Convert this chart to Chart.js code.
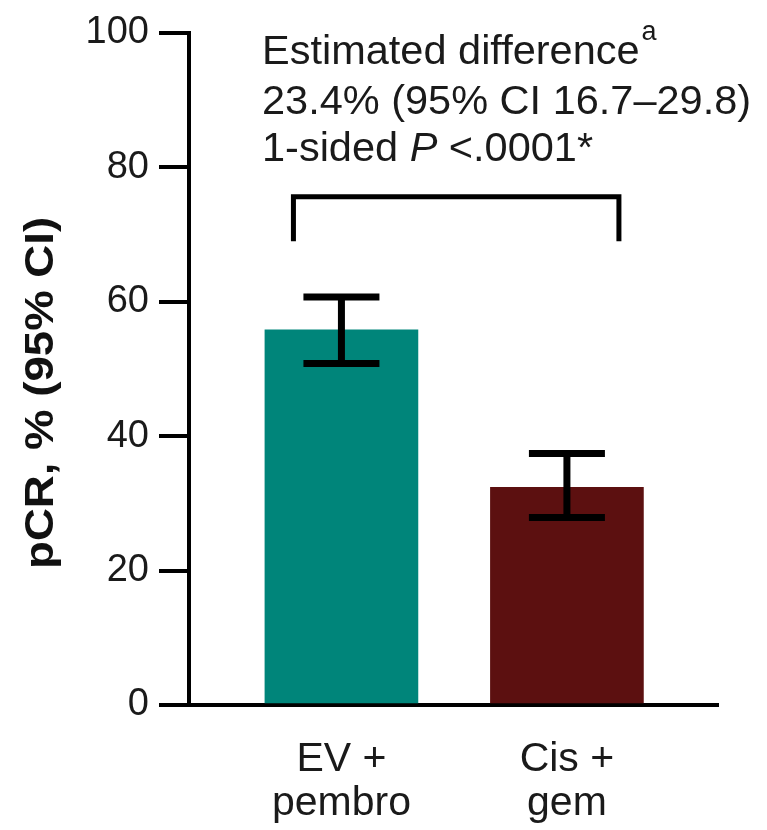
<!DOCTYPE html>
<html>
<head>
<meta charset="utf-8">
<script src="https://cdn.jsdelivr.net/npm/chart.js@4.4.1/dist/chart.umd.min.js"></script>
<style>
  html, body { margin: 0; padding: 0; background: #ffffff; }
  #wrap { width: 767px; height: 830px; }
</style>
</head>
<body>
<div id="wrap"><canvas id="c" width="767" height="830"></canvas></div>
<script>
// ---- data ----
const categories = [["EV +", "pembro"], ["Cis +", "gem"]];
const pcrValues = [55.8, 32.4];
const ciLow = [50.8, 27.9];
const ciHigh = [60.7, 37.4];
const barColors = ["#00857a", "#5c1010"];
const yTickValues = [0, 20, 40, 60, 80, 100];
const yAxisTitle = "pCR, % (95% CI)";
const annotationLine1 = "Estimated difference";
const annotationSup = "a";
const annotationLine2 = "23.4% (95% CI 16.7\u201329.8)";
const annotationLine3 = ["1-sided ", "P", " <.0001*"];

const FONT = "'Liberation Sans', Arial, Helvetica, sans-serif";

const barPoints = pcrValues.map((v, i) => ({ x: i, y: v }));

const overlay = {
  id: 'overlay',
  afterDatasetsDraw(chart) {
    const ctx = chart.ctx;
    const xs = chart.scales.x, ys = chart.scales.y;
    const area = chart.chartArea;
    ctx.save();
    // error bars
    ctx.strokeStyle = '#000';
    ctx.lineWidth = 7;
    ctx.lineCap = 'butt';
    for (let i = 0; i < pcrValues.length; i++) {
      const cx = xs.getPixelForValue(i);
      const yl = ys.getPixelForValue(ciLow[i]);
      const yh = ys.getPixelForValue(ciHigh[i]);
      const hw = 38;
      ctx.beginPath();
      ctx.moveTo(cx, yh); ctx.lineTo(cx, yl);
      ctx.moveTo(cx - hw, yh); ctx.lineTo(cx + hw, yh);
      ctx.moveTo(cx - hw, yl); ctx.lineTo(cx + hw, yl);
      ctx.stroke();
    }
    // comparison bracket
    const bl = xs.getPixelForValue(0) - 48;
    const br = xs.getPixelForValue(1) + 52;
    const bt = ys.getPixelForValue(75.6);
    const bb = ys.getPixelForValue(69.0);
    ctx.lineWidth = 5;
    ctx.lineJoin = 'miter';
    ctx.beginPath();
    ctx.moveTo(bl, bb); ctx.lineTo(bl, bt); ctx.lineTo(br, bt); ctx.lineTo(br, bb);
    ctx.stroke();

    // annotation text
    ctx.fillStyle = '#1a1a1a';
    ctx.textAlign = 'left';
    ctx.textBaseline = 'alphabetic';
    const tx = area.left + 73;
    const fs = 41.5;
    ctx.font = `${fs}px ${FONT}`;
    ctx.fillText(annotationLine1, tx, area.top + 31);
    const w1 = ctx.measureText(annotationLine1).width;
    ctx.font = `27px ${FONT}`;
    ctx.fillText(annotationSup, tx + w1 + 2, area.top + 7);
    ctx.font = `${fs}px ${FONT}`;
    ctx.fillText(annotationLine2, tx, area.top + 81);
    let x3 = tx;
    annotationLine3.forEach((part, k) => {
      ctx.font = (k === 1 ? 'italic ' : '') + `${fs}px ${FONT}`;
      ctx.fillText(part, x3, area.top + 128);
      x3 += ctx.measureText(part).width;
    });

    // y-axis title
    ctx.save();
    ctx.translate(42, (area.top + area.bottom) / 2 + 24);
    ctx.rotate(-Math.PI / 2);
    ctx.font = `bold 40px ${FONT}`;
    const tw = ctx.measureText(yAxisTitle).width;
    ctx.scale(352 / tw, 1);
    ctx.textAlign = 'center';
    ctx.textBaseline = 'middle';
    ctx.fillStyle = '#111';
    ctx.fillText(yAxisTitle, 0, 0);
    ctx.restore();
    ctx.restore();
  }
};

new Chart(document.getElementById('c'), {
  type: 'bar',
  data: {
    datasets: [{
      data: barPoints,
      backgroundColor: barColors,
      borderWidth: 0,
      barThickness: 153
    }]
  },
  options: {
    responsive: false,
    animation: false,
    devicePixelRatio: 1,
    layout: { padding: { left: 0, right: 49, top: 30, bottom: 0 } },
    plugins: { legend: { display: false }, tooltip: { enabled: false } },
    scales: {
      x: {
        type: 'linear',
        min: -0.676,
        max: 1.67,
        offset: false,
        afterBuildTicks(scale) { scale.ticks = categories.map((c, i) => ({ value: i })); },
        afterFit(scale) { scale.height = 125; },
        grid: { display: false, drawTicks: false },
        border: { display: true, color: '#000', width: 4 },
        ticks: {
          callback: (v) => categories[v],
          color: '#1a1a1a',
          font: { family: FONT, size: 41, lineHeight: 1.07 },
          padding: 33,
          maxRotation: 0,
          autoSkip: false
        }
      },
      y: {
        min: 0,
        max: 100,
        afterBuildTicks(scale) { scale.ticks = yTickValues.map(v => ({ value: v })); },
        afterFit(scale) { scale.width = 189; },
        grid: { drawOnChartArea: false, drawTicks: true, tickLength: 30, color: '#000', lineWidth: 4 },
        border: { display: true, color: '#000', width: 4 },
        ticks: {
          color: '#1a1a1a',
          font: { family: FONT, size: 38 },
          padding: 10
        }
      }
    }
  },
  plugins: [overlay]
});
</script>
</body>
</html>
